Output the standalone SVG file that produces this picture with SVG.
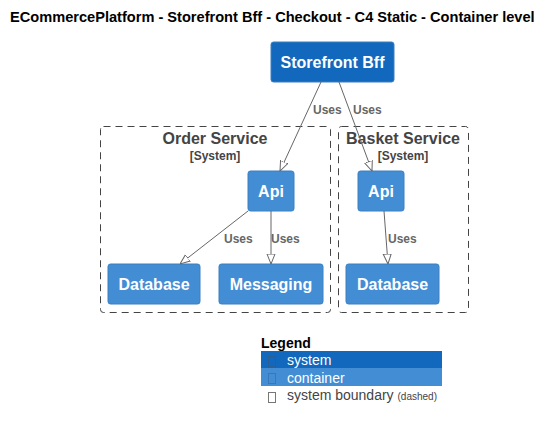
<svg xmlns="http://www.w3.org/2000/svg" width="553" height="430" viewBox="0 0 553 430">
<style>
text{font-family:"Liberation Sans",Arial,sans-serif}
.title{font-size:14.6px;font-weight:bold;fill:#000}
.sys{fill:#1168BD;stroke:#3C7FC0;stroke-width:1}
.cont{fill:#438DD5;stroke:#3C7FC0;stroke-width:1}
.nl{font-size:16px;font-weight:bold;fill:#fff;text-anchor:middle}
.bnd{fill:none;stroke:#444;stroke-width:1;stroke-dasharray:7,5}
.bt{font-size:16px;font-weight:bold;fill:#444;text-anchor:middle}
.bs{font-size:12px;font-weight:bold;fill:#444;text-anchor:middle}
.edge{stroke:#666;stroke-width:1;fill:none;marker-end:url(#arr)}
.el{font-size:12px;font-weight:bold;fill:#666}
.lg{font-size:14px}
.tofu{fill:none;stroke-width:1}
</style>
<defs>
<marker id="arr" viewBox="0 0 10 10" refX="10" refY="5" markerWidth="10" markerHeight="10" markerUnits="userSpaceOnUse" orient="auto">
<path d="M0,1 L10,5 L0,9 Z" fill="#fff" stroke="#666" stroke-width="1"/>
</marker>
</defs>
<text class="title" x="10" y="22">ECommercePlatform - Storefront Bff - Checkout - C4 Static - Container level</text>

<g id="order-service-boundary">
<rect class="bnd" x="100.5" y="126.5" width="230" height="186" rx="3"/>
<text class="bt" x="215" y="144">Order Service</text>
<text class="bs" x="215" y="160">[System]</text>
</g>
<g id="basket-service-boundary">
<rect class="bnd" x="338.5" y="126.5" width="130" height="186" rx="3"/>
<text class="bt" x="403" y="144">Basket Service</text>
<text class="bs" x="403" y="160">[System]</text>
</g>

<g id="storefront-bff">
<rect class="sys" x="271" y="42" width="123" height="40" rx="2.5"/>
<text class="nl" x="332.5" y="68">Storefront Bff</text>
</g>
<g id="order-api">
<rect class="cont" x="248" y="171" width="46" height="40" rx="2.5"/>
<text class="nl" x="271" y="197">Api</text>
</g>
<g id="order-database">
<rect class="cont" x="108" y="264" width="92" height="40" rx="2.5"/>
<text class="nl" x="154" y="290">Database</text>
</g>
<g id="order-messaging">
<rect class="cont" x="219" y="264" width="104" height="40" rx="2.5"/>
<text class="nl" x="271" y="290">Messaging</text>
</g>
<g id="basket-api">
<rect class="cont" x="358" y="171" width="46" height="40" rx="2.5"/>
<text class="nl" x="381" y="197">Api</text>
</g>
<g id="basket-database">
<rect class="cont" x="346" y="264" width="93" height="40" rx="2.5"/>
<text class="nl" x="392.5" y="290">Database</text>
</g>

<g id="connectors">
<path class="edge" d="M321,82 L280,171"/>
<text class="el" x="313" y="114">Uses</text>
<path class="edge" d="M339,82 L372,171"/>
<text class="el" x="353" y="114">Uses</text>
<path class="edge" d="M248,211 L180,264"/>
<text class="el" x="224" y="243">Uses</text>
<path class="edge" d="M271,211 L271,264"/>
<text class="el" x="271" y="243">Uses</text>
<path class="edge" d="M384,211 L388,264"/>
<text class="el" x="388" y="243">Uses</text>
</g>

<g id="legend">
<text x="261" y="348" style="font-size:14px;font-weight:bold;fill:#000">Legend</text>
<rect x="261" y="351" width="181" height="17" fill="#1168BD"/>
<rect x="261" y="368" width="181" height="18" fill="#438DD5"/>
<rect class="tofu" x="268.5" y="356.5" width="7" height="10" stroke="#2A5F96"/>
<text class="lg" x="287" y="365" fill="#fff">system</text>
<rect class="tofu" x="268.5" y="373.5" width="7" height="10" stroke="#3A78B5"/>
<text class="lg" x="287" y="383" fill="#fff">container</text>
<rect class="tofu" x="268.5" y="392.5" width="7" height="10" stroke="#777"/>
<text class="lg" x="287" y="400" fill="#444">system boundary <tspan style="font-size:10px">(dashed)</tspan></text>
</g>
</svg>
